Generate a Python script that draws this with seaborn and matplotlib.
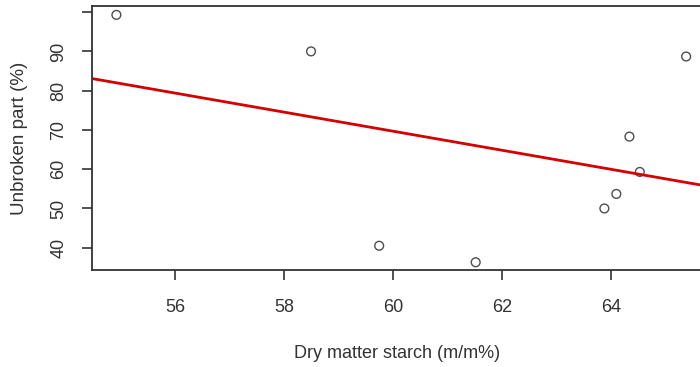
import numpy as np
import pandas as pd
import matplotlib.pyplot as plt
import seaborn as sns

# values
dry_matter_starch = [54.92, 58.49, 65.37, 64.33, 64.52, 64.09, 63.87, 59.74, 61.51]
unbroken_part = [99.3, 90.0, 88.7, 68.3, 59.3, 53.7, 50.0, 40.5, 36.3]

x_ticks = [56, 58, 60, 62, 64]
y_ticks = [40, 50, 60, 70, 80, 90, 100]
y_tick_labels = ["40", "50", "60", "70", "80", "90", ""]

df = pd.DataFrame({
    "starch": dry_matter_starch,
    "unbroken": unbroken_part
})

sns.set_style("ticks")
plt.rcParams["font.family"] = ["Liberation Sans", "DejaVu Sans"]

text_color = "#333333"

fig = plt.figure(figsize=(7, 3.67), dpi=100)
ax = fig.add_axes([0.132, 0.264, 0.87, 0.719])

ax.set_xlim(54.48, 65.65)
ax.set_ylim(34.3, 101.5)

sns.regplot(
    data=df,
    x="starch",
    y="unbroken",
    ci=None,
    truncate=False,
    ax=ax,
    scatter_kws=dict(
        s=40,
        facecolors="none",
        edgecolors="#222222",
        linewidths=1.0
    ),
    line_kws=dict(
        color="#d40000",
        linewidth=2.0
    )
)

ax.set_xlim(54.48, 65.65)
ax.set_ylim(34.3, 101.5)

ax.set_xticks(x_ticks)
ax.set_xticklabels([str(t) for t in x_ticks])
ax.set_yticks(y_ticks)
ax.set_yticklabels(y_tick_labels, rotation=90, va="center")

ax.tick_params(
    axis="both",
    direction="out",
    length=7,
    width=1.2,
    color="#333333",
    labelsize=13,
    labelcolor=text_color
)
ax.tick_params(axis="x", pad=14)
ax.tick_params(axis="y", pad=11)

for side in ["left", "bottom", "top", "right"]:
    ax.spines[side].set_visible(True)
    ax.spines[side].set_color("#333333")
    ax.spines[side].set_linewidth(1.3)

ax.set_xlabel("Dry matter starch (m/m%)", fontsize=13, color=text_color, labelpad=21)
ax.set_ylabel("Unbroken part (%)", fontsize=13.5, color=text_color, labelpad=16)

plt.savefig("out.png", dpi=100)
plt.close()
